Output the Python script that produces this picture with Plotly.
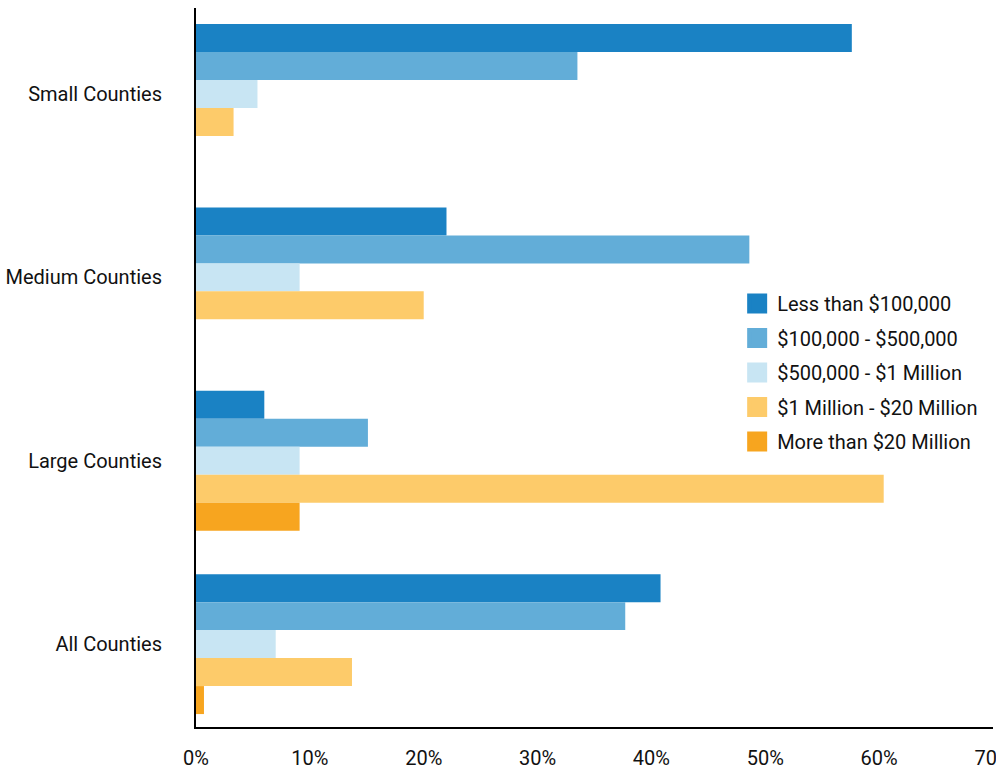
import plotly.graph_objects as go

categories = ["Small Counties", "Medium Counties", "Large Counties", "All Counties"]
series_names = [
    "Less than $100,000",
    "$100,000 - $500,000",
    "$500,000 - $1 Million",
    "$1 Million - $20 Million",
    "More than $20 Million",
]
less_100k = [57.6, 22.0, 6.0, 40.8]
k100_500k = [33.5, 48.6, 15.1, 37.7]
k500_1m = [5.4, 9.1, 9.1, 7.0]
m1_20m = [3.3, 20.0, 60.4, 13.7]
more_20m = [0.0, 0.0, 9.1, 0.7]
series_values = [less_100k, k100_500k, k500_1m, m1_20m, more_20m]
colors = ["#1A82C4", "#62ADD8", "#C8E5F3", "#FDCB6A", "#F7A51F"]
x_tickvals = [0, 10, 20, 30, 40, 50, 60, 70]
x_ticktext = ["0%", "10%", "20%", "30%", "40%", "50%", "60%", "70%"]

FONT = "Roboto, Arial, sans-serif"

fig = go.Figure()
for name, vals, col in zip(series_names, series_values, colors):
    fig.add_trace(go.Bar(
        y=categories, x=vals, orientation="h", name=name,
        marker=dict(color=col, line=dict(width=0)),
        showlegend=False,
    ))
for i, (name, col) in enumerate(zip(series_names, colors)):
    fig.add_trace(go.Scatter(
        x=[None], y=[None], mode="markers", name=name,
        legendgroup=f"g{i}",
        marker=dict(symbol="square", size=16, color=col,
                    line=dict(color=col, width=4)),
    ))

fig.update_layout(
    width=996, height=772,
    margin=dict(l=196, r=3, t=8, b=45),
    paper_bgcolor="white", plot_bgcolor="white",
    barmode="group", bargap=0.237, bargroupgap=0,
    font=dict(family=FONT, size=20, color="#111111"),
    legend=dict(
        x=0.679, y=0.616, xanchor="left", yanchor="top",
        traceorder="grouped", tracegroupgap=5.5,
        font=dict(family=FONT, size=20, color="#111111"),
        bgcolor="rgba(0,0,0,0)",
    ),
    xaxis=dict(
        range=[0, 70], tickvals=x_tickvals, ticktext=x_ticktext,
        showgrid=False, zeroline=False, showline=True,
        linecolor="black", linewidth=2, ticks="", ticklabelstandoff=12,
        ticklabeloverflow="allow",
        automargin=False, fixedrange=True,
    ),
    yaxis=dict(
        range=[3.452, -0.469], showgrid=False, zeroline=False,
        showline=True, linecolor="black", linewidth=2, ticks="",
        ticklabelstandoff=28, automargin=False, fixedrange=True,
        categoryorder="array", categoryarray=categories,
    ),
)

fig.write_html(
    "out.html",
    config={"displayModeBar": False},
    post_script="document.body.style.margin='0px';document.body.style.overflow='hidden';",
)
